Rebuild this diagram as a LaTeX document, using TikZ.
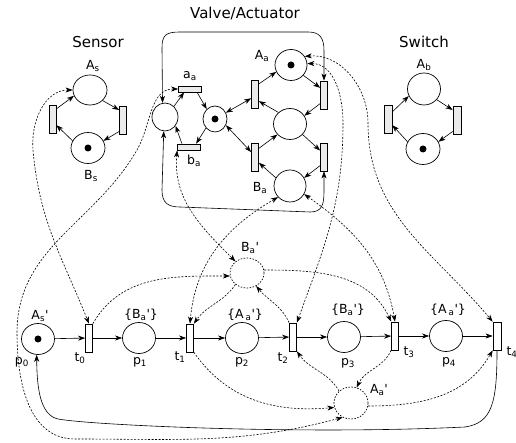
\documentclass[tikz,border=0pt]{standalone}
\usepackage{fontspec}
\setmainfont{DejaVu Sans}
\usetikzlibrary{shapes.geometric,arrows.meta,calc}
\begin{document}
\begin{tikzpicture}[x=1pt,y=1pt,
 >={Stealth[length=7pt,width=5pt,inset=2pt]},
 place/.style={ellipse,draw,line width=0.7pt,inner sep=0pt,minimum width=33pt,minimum height=31pt},
 vplace/.style={place,minimum width=26pt,minimum height=28pt},
 dplace/.style={place,dash pattern=on 1.5pt off 1.5pt},
 trans/.style={rectangle,draw,line width=0.7pt,fill=black!8,inner sep=0pt,minimum width=7pt,minimum height=28pt},
 htrans/.style={trans,minimum width=23pt,minimum height=6pt},
 btrans/.style={trans,fill=white},
 conn/.style={line width=0.6pt,->},
 dconn/.style={conn,dash pattern=on 2pt off 1.5pt},
 lbl/.style={font=\fontsize{12.5}{14}\selectfont,inner sep=0pt},
 ttl/.style={font=\fontsize{15}{17}\selectfont,inner sep=0pt}]
\useasboundingbox (0,0) rectangle (516,443);

% ---------- Sensor ----------
\node[ttl] (tS) at (98,401) {Sensor};
\node[place,minimum width=34pt,minimum height=30pt] (As) at (90,353) {};
\node[place,minimum width=34pt,minimum height=31pt] (Bs) at (88,295) {};
\node[trans] (SL) at (52.5,324) {};
\node[trans] (SR) at (123,323) {};
\node[lbl] (lAs) at (93,377) {A\textsubscript{s}};
\node[lbl] (lBs) at (91,267) {B\textsubscript{s}};
\fill (Bs.center) circle (3.5);
\draw[conn] ($(SL.north east)!0.15!(SL.south east)$) -- (As.200);
\draw[conn] (As.-40) -- ($(SR.west)!0.7!(SR.north west)$);
\draw[conn] ($(SR.south west)!0.1!(SR.north west)$) -- (Bs.25);
\draw[conn] (Bs.155) -- ($(SL.east)!0.43!(SL.south east)$);

% ---------- Switch ----------
\node[ttl] (tW) at (424,401) {Switch};
\node[place,minimum width=33pt,minimum height=32pt] (Ab) at (424,354) {};
\node[place,minimum width=34pt,minimum height=31pt] (Bb) at (423,294) {};
\node[trans,minimum width=8pt] (WL) at (388,324) {};
\node[trans,minimum width=8pt] (WR) at (457,323) {};
\node[lbl] (lAb) at (424,378) {A\textsubscript{b}};
\fill (Bb.center) circle (3.5);
\draw[conn] ($(WL.north east)!0.25!(WL.south east)$) -- (Ab.205);
\draw[conn] (Ab.-40) -- ($(WR.west)!0.7!(WR.north west)$);
\draw[conn] ($(WR.south west)!0.1!(WR.north west)$) -- (Bb.25);
\draw[conn] (Bb.155) -- ($(WL.east)!0.43!(WL.south east)$);

% ---------- Valve / Actuator ----------
\node[ttl] (tV) at (245,429) {Valve/Actuator};
\node[vplace] (L) at (165,326) {};
\node[vplace,minimum width=24pt,minimum height=26pt] (M) at (215,324) {};
\node[htrans] (aa) at (190,354) {};
\node[htrans] (ba) at (189,296) {};
\node[lbl] (laa) at (190,367) {a\textsubscript{a}};
\node[lbl] (lba) at (194,282) {b\textsubscript{a}};
\node[place,minimum width=32pt] (Aa) at (291,378) {};
\node[place] (Rm) at (290,319) {};
\node[place,minimum width=32pt,minimum height=32pt] (Ba) at (290,257) {};
\node[lbl] (lAa) at (262,387) {A\textsubscript{a}};
\node[lbl] (lBa) at (260,255) {B\textsubscript{a}};
\node[trans] (LT1) at (255,349) {};
\node[trans] (LT2) at (255,286) {};
\node[trans] (RT1) at (324,348) {};
\node[trans] (RT2) at (324,286) {};
\fill (M.center) circle (3.5);
\fill (Aa.center) circle (3.5);

\draw[conn] (L.50) -- ($(aa.south west)!0.25!(aa.south east)$);
\draw[conn] ($(aa.south west)!0.8!(aa.south east)$) -- (M.130);
\draw[conn] (M.-135) -- ($(ba.north west)!0.8!(ba.north east)$);
\draw[conn] ($(ba.north west)!0.2!(ba.north east)$) -- (L.-40);
\draw[conn,<->] (M.30) -- ($(LT1.west)!0.3!(LT1.south west)$);
\draw[conn,<->] (M.-30) -- ($(LT2.west)!0.35!(LT2.north west)$);
\draw[conn] ($(LT1.north east)!0.15!(LT1.south east)$) -- (Aa.205);
\draw[conn] (Aa.-40) -- ($(RT1.west)!0.5!(RT1.north west)$);
\draw[conn] ($(RT1.west)!0.6!(RT1.south west)$) -- (Rm.30);
\draw[conn] (Rm.135) -- ($(LT1.east)!0.5!(LT1.south east)$);
\draw[conn] (Rm.-40) -- ($(RT2.west)!0.45!(RT2.north west)$);
\draw[conn] ($(RT2.west)!0.6!(RT2.south west)$) -- (Ba.30);
\draw[conn] (Ba.150) -- ($(LT2.east)!0.4!(LT2.south east)$);
\draw[conn] ($(LT2.north east)!0.2!(LT2.south east)$) -- (Rm.-140);

\draw[conn,<->] (L.100) -- (162,395) .. controls (162,408) and (166,411) .. (180,411)
   -- (308,411) .. controls (320,411) and (324,405) .. (324,392) -- (RT1.north);
\draw[conn,<->] (L.-95) -- (162,253) .. controls (162,240) and (168,236) .. (180,236)
   -- (310,231) .. controls (322,231) and (324,238) .. (324,252) -- (RT2.south);

% ---------- bottom net ----------
\node[place] (p0) at (38,104) {};
\node[btrans] (t0) at (89,105) {};
\node[place] (p1) at (139,105) {};
\node[btrans] (t1) at (190,105) {};
\node[place] (p2) at (242,105) {};
\node[btrans] (t2) at (293,106) {};
\node[place] (p3) at (344,106) {};
\node[btrans] (t3) at (395,107) {};
\node[place] (p4) at (446,107) {};
\node[btrans,minimum width=8pt] (t4) at (497,107) {};
\fill (p0.center) circle (3.5);

\node[dplace,minimum width=34pt,minimum height=30pt] (Bap) at (247,170) {};
\node[dplace,minimum width=34pt,minimum height=32pt] (Aap) at (351,40) {};

\node[lbl] (lp0a) at (40,127) {A\textsubscript{s}\textquotesingle};
\node[lbl] (lp0) at (22,81) {p\textsubscript{0}};
\node[lbl] (lt0) at (80,85) {t\textsubscript{0}};
\node[lbl] (lp1a) at (141,128) {\{B\textsubscript{a}\textquotesingle\}};
\node[lbl] (lp1) at (140,81) {p\textsubscript{1}};
\node[lbl] (lt1) at (180,86) {t\textsubscript{1}};
\node[lbl] (lp2a) at (245,128) {\{A\,\textsubscript{a}\textquotesingle\}};
\node[lbl] (lp2) at (242,81) {p\textsubscript{2}};
\node[lbl] (lt2) at (283,85) {t\textsubscript{2}};
\node[lbl] (lp3a) at (348,133) {\{B\textsubscript{a}\textquotesingle\}};
\node[lbl] (lp3) at (348,80) {p\textsubscript{3}};
\node[lbl] (lt3) at (409,91) {t\textsubscript{3}};
\node[lbl] (lp4a) at (448,133) {\{A\,\textsubscript{a}\textquotesingle\}};
\node[lbl] (lp4) at (449,81) {p\textsubscript{4}};
\node[lbl] (lt4) at (512,91) {t\textsubscript{4}};
\node[lbl] (lBap) at (250,195) {B\textsubscript{a}\textquotesingle};
\node[lbl] (lAap) at (379,53) {A\textsubscript{a}\textquotesingle};

\foreach \a/\b in {p0/t0,t0/p1,p1/t1,t1/p2,p2/t2,t2/p3,p3/t3,t3/p4,p4/t4}
  \draw[conn] (\a) -- (\b);

\draw[conn] (t4.south) .. controls (497,40) and (492,20) .. (465,16)
   .. controls (300,8) and (90,18) .. (58,24) .. controls (40,28) and (37,55) .. (p0.-95);

% ---------- dashed arcs ----------
\draw[dconn,<->] (As.west) to[out=180,in=95] (33,293) to[out=-85,in=112] (t0.north);
\draw[dconn,<->] (aa.west) to[out=180,in=60] (137,293) to[out=-120,in=90] (17,110)
   to[out=-90,in=180] (75,4) to[out=0,in=195] (Aap.-120);
\draw[dconn,<->] (ba.south west) to[out=-95,in=135] (Bap.135);
\draw[dconn,<->] (Ba.-137) to[out=-150,in=85] (t1.north);
\draw[dconn,->] (t0.north east) to[out=60,in=180] (Bap.190);
\draw[dconn,->] (Bap.10) to[out=0,in=115] (t3.north west);
\draw[dconn,<->] (Ba.-30) to[out=-35,in=100] (t3.north);
\draw[dconn,<->] (Aa.5) to[out=0,in=90] (343,320) to[out=-90,in=70] (t2.north east);
\draw[dconn,<->] (Aa.32) to[out=5,in=90] (368,320) to[out=-90,in=130] (t4.north west);
\draw[dconn,->] (t2.north west) to[out=115,in=-50] (Bap.-55);
\draw[dconn,->] (Bap.-135) to[out=-125,in=55] (t1.north east);
\draw[dconn,->] (t1.south east) to[out=-55,in=185] (Aap.195);
\draw[dconn,->] (Aap.135) to[out=120,in=-55] (t2.south east);
\draw[dconn,->] (t3.south west) to[out=-115,in=65] (Aap.70);
\draw[dconn,->] (Aap.-10) to[out=0,in=-120] (t4.south west);
\end{tikzpicture}
\end{document}
